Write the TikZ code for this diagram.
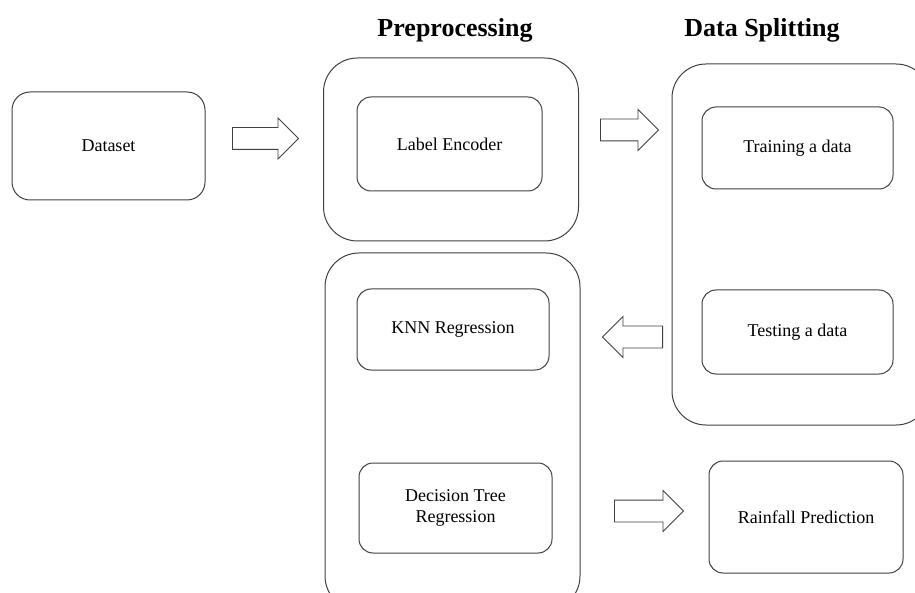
\documentclass[tikz,border=0pt]{standalone}
\usepackage{fontspec}
\setmainfont{Liberation Serif}
\usetikzlibrary{positioning,shapes.arrows}
\usepackage{xcolor}

\tikzset{
  group box/.style={draw=black!75, line width=1pt, rounded corners=34pt},
  step box/.style={draw=black!75, line width=1pt, rounded corners=14pt,
    align=center, inner sep=0pt, font=\fontsize{18}{21}\selectfont},
  block arrow/.style={single arrow, draw=black!75, line width=0.9pt,
    inner xsep=0pt, inner ysep=10.5pt, single arrow head extend=9.5pt,
    anchor=tail},
  heading/.style={font=\fontsize{26}{28}\selectfont\bfseries}
}

\begin{document}
\begin{tikzpicture}[x=1pt, y=-1pt]
      \useasboundingbox (0,0) rectangle (915,593);
      \clip (0,0) rectangle (915,593);

      % Outer groups
      \node [group box, minimum width=255pt, minimum height=183pt] (preproc) at (451,149.5) {};
      \node [group box, minimum width=258pt, minimum height=361pt] (split) at (801,244.5) {};
      \node [group box, minimum width=255pt, minimum height=357pt] (models) at (452.5,431.5) {};

      % Steps
      \node [step box, rounded corners=18pt, minimum width=193pt, minimum height=108pt] (dataset) at (108.5,146) {Dataset};
      \node [step box, minimum width=185pt, minimum height=94pt] (encoder) at (449.5,144) {Label Encoder};
      \node [step box, minimum width=191pt, minimum height=82pt] (train) at (797.5,148) {Training a data};
      \node [step box, minimum width=191pt, minimum height=84pt] (test) at (797.5,332) {Testing a data};
      \node [step box, minimum width=192pt, minimum height=81pt] (knn) at (453,329.5) {KNN Regression};
      \node [step box, minimum width=193pt, minimum height=90pt] (dtree) at (455.5,508) {Decision Tree\\Regression};
      \node [step box, minimum width=194pt, minimum height=112pt] (rain) at (806,517) {Rainfall Prediction};

      % Block arrows between the stages
      \foreach \m/\x/\y/\l/\r in {1/232/138.5/66/0, 2/600/130/58/0, 3/663/337/60/180, 4/614/511/69/0}
        \node [block arrow, minimum height=\l pt, shape border rotate=\r] (arrow-\m) at (\x,\y) {};

      % Headings
      \node [heading] (preproc-title) at (455,30) {Preprocessing};
      \node [heading] (split-title) at (762,30) {Data Splitting};
\end{tikzpicture}
\end{document}
